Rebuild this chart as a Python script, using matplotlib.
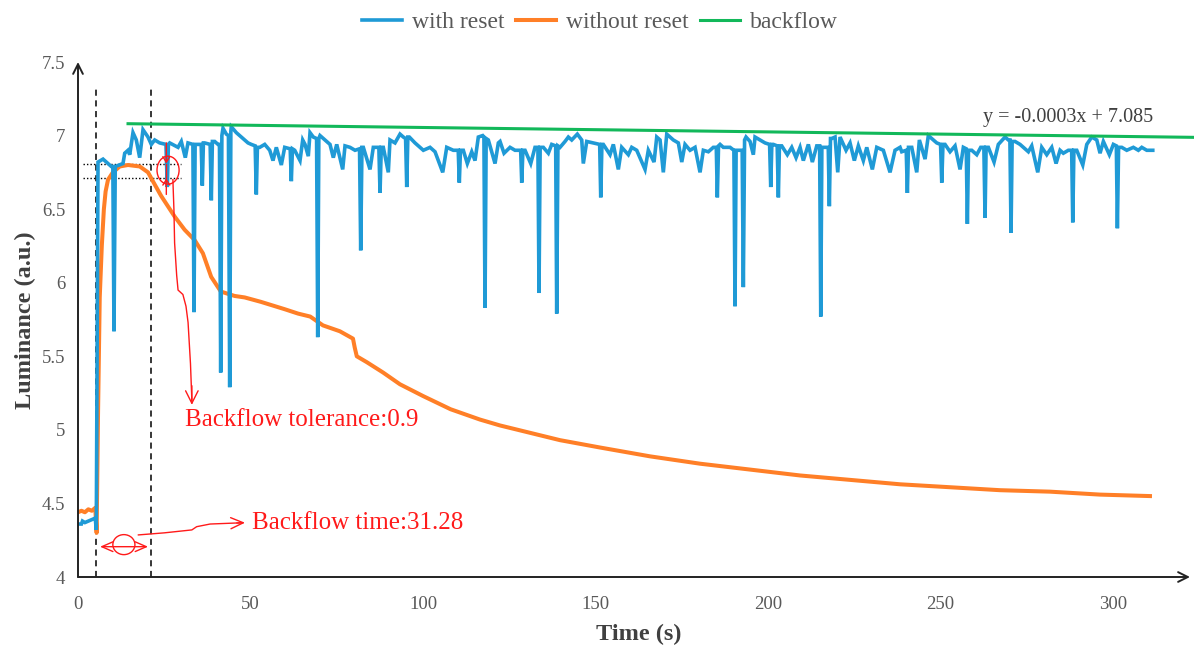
import matplotlib
matplotlib.use("Agg")
import matplotlib.pyplot as plt
from matplotlib.patches import Ellipse

plt.rcParams['font.family'] = ['Liberation Serif', 'DejaVu Serif']

# ---------------- data ----------------
with_reset = [
    (0, 4.36), (1, 4.36), (1.3, 4.38), (2, 4.37), (3, 4.38), (4, 4.39), (5, 4.40), (5.3, 4.32),
    (5.8, 6.82), (7.25, 6.84), (9.65, 6.79), (10.1, 6.79), (10.43, 5.67), (10.8, 6.79),
    (13.04, 6.81), (13.54, 6.88), (14.49, 6.90), (14.99, 6.87), (15.94, 7.02), (16.9, 6.97),
    (17.88, 6.85), (18.84, 7.04), (20.29, 6.99), (21.25, 6.94), (22.23, 6.97), (23.68, 6.95),
    (25.5, 6.94), (25.88, 6.65), (26.2, 6.94), (26.58, 6.95), (28.99, 6.92), (29.94, 6.96),
    (31.1, 6.85), (31.88, 6.95), (33.3, 6.94), (33.62, 5.80), (33.95, 6.94), (34.29, 6.94),
    (35.7, 6.94), (36.03, 6.66), (36.35, 6.95), (36.72, 6.95), (38.3, 6.94), (38.64, 6.56),
    (38.95, 6.96), (39.62, 6.96), (40.58, 6.94), (41.0, 6.94), (41.36, 5.39), (41.7, 7.0),
    (42.03, 7.05), (42.99, 7.01), (43.6, 7.0), (43.97, 5.29), (44.3, 7.03), (44.43, 7.06),
    (45.88, 7.02), (47.33, 6.99), (49.28, 6.95), (50.23, 6.94), (51.35, 6.93), (51.68, 6.60),
    (52.0, 6.92), (52.67, 6.92), (54.12, 6.94), (55.57, 6.90), (56.52, 6.83), (57.48, 6.92),
    (58.93, 6.80), (59.91, 6.92), (61.5, 6.91), (61.83, 6.69), (62.15, 6.91), (62.81, 6.90),
    (64.35, 6.83), (65.13, 6.97), (65.8, 6.94), (66.75, 6.86), (67.25, 7.02), (68.2, 6.99),
    (69.15, 6.98), (69.48, 5.63), (69.8, 6.98), (70.14, 7.00), (71.59, 6.97), (73.04, 6.94),
    (74.0, 6.85), (74.99, 6.94), (76.72, 6.77), (77.39, 6.93), (78.84, 6.92), (80.29, 6.90),
    (81.6, 6.91), (81.94, 6.22), (82.3, 6.92), (82.7, 6.92), (84.64, 6.77), (85.59, 6.92),
    (87.2, 6.92), (87.54, 6.61), (87.9, 6.92), (88.49, 6.92), (89.94, 6.75), (90.43, 6.97),
    (91.88, 6.95), (93.33, 7.01), (94.29, 6.99), (94.95, 6.98), (95.28, 6.65), (95.6, 6.99),
    (96.03, 6.99), (97.68, 6.95), (100.09, 6.90), (102.03, 6.92), (103.48, 6.89), (105.71, 6.75),
    (106.87, 6.92), (108.78, 6.90), (110.2, 6.90), (110.52, 6.68), (110.85, 6.90), (111.68, 6.90),
    (112.84, 6.81), (114.12, 6.89), (115.07, 6.83), (116.03, 6.99), (117.3, 7.00), (117.65, 6.99),
    (117.97, 5.83), (118.3, 6.98), (118.93, 6.97), (120.87, 6.81), (121.83, 6.95), (122.32, 6.96),
    (123.48, 6.88), (125.22, 6.92), (126.67, 6.90), (128.3, 6.90), (128.61, 6.68), (128.95, 6.90),
    (129.57, 6.90), (131.22, 6.81), (132.46, 6.92), (133.3, 6.92), (133.62, 5.93), (133.95, 6.92),
    (134.87, 6.92), (136.32, 6.88), (137.3, 6.94), (138.45, 6.93), (138.75, 5.79), (139.1, 6.93),
    (139.71, 6.92), (141.16, 6.96), (142.12, 6.99), (143.1, 6.97), (144.72, 7.01), (146.0, 6.97),
    (146.46, 6.81), (147.45, 6.96), (149.36, 6.95), (151.2, 6.94), (151.51, 6.58), (151.85, 6.94),
    (152.26, 6.94), (154.2, 6.87), (155.16, 6.94), (156.61, 6.77), (157.59, 6.92), (159.51, 6.87),
    (160.49, 6.92), (161.94, 6.90), (164.35, 6.77), (165.3, 6.90), (166.96, 6.82), (167.74, 6.99),
    (168.7, 6.97), (169.65, 6.75), (170.64, 7.01), (172.55, 6.97), (174.0, 6.95), (174.99, 6.82),
    (175.94, 6.94), (177.39, 6.90), (178.84, 6.92), (180.29, 6.75), (181.25, 6.90), (182.7, 6.89),
    (184.14, 6.92), (185.0, 6.92), (185.3, 6.58), (185.65, 6.93), (186.09, 6.94), (187.04, 6.92),
    (188.99, 6.92), (190.1, 6.90), (190.43, 5.84), (190.75, 6.90), (191.39, 6.90), (192.5, 6.90),
    (192.84, 5.97), (193.2, 6.97), (193.62, 6.99), (194.78, 6.96), (195.74, 6.87), (196.23, 6.99),
    (197.68, 6.97), (199.13, 6.95), (200.45, 6.94), (200.78, 6.65), (201.1, 6.94), (201.54, 6.94),
    (202.65, 6.93), (202.99, 6.58), (203.3, 6.93), (203.97, 6.93), (205.59, 6.87), (206.87, 6.92),
    (208.12, 6.85), (209.28, 6.92), (210.23, 6.83), (211.68, 6.94), (212.84, 6.82), (214.12, 6.93),
    (214.95, 6.93), (215.28, 5.77), (215.6, 6.92), (216.52, 6.92), (217.45, 6.92), (217.77, 6.52),
    (218.1, 6.98), (218.46, 6.98), (219.42, 6.99), (220.2, 6.75), (220.87, 6.99), (222.61, 6.90),
    (223.77, 6.95), (225.01, 6.83), (226.17, 6.93), (227.62, 6.83), (228.61, 6.92), (230.23, 6.77),
    (231.51, 6.92), (233.42, 6.90), (235.36, 6.75), (236.81, 6.90), (238.26, 6.92), (238.75, 6.89),
    (240.05, 6.90), (240.38, 6.61), (240.7, 6.92), (241.65, 6.92), (243.1, 6.75), (243.86, 6.97),
    (245.51, 6.84), (246.46, 7.00), (247.91, 6.97), (248.9, 6.95), (250.0, 6.94), (250.35, 6.68),
    (250.7, 6.94), (251.3, 6.94), (252.75, 6.89), (254.2, 6.93), (255.65, 6.77), (256.61, 6.92),
    (257.45, 6.91), (257.77, 6.40), (258.1, 6.90), (259.04, 6.90), (260.49, 6.87), (261.65, 6.92),
    (262.55, 6.92), (262.9, 6.44), (263.2, 6.92), (263.86, 6.92), (265.51, 6.82), (266.75, 6.94),
    (268.7, 6.99), (269.65, 6.97), (270.1, 6.97), (270.43, 6.34), (270.75, 6.96), (271.59, 6.96),
    (273.04, 6.94), (275.45, 6.89), (276.43, 6.93), (278.17, 6.75), (279.33, 6.92), (280.78, 6.87),
    (282.23, 6.92), (283.48, 6.81), (284.64, 6.90), (285.59, 6.88), (287.04, 6.90), (288.0, 6.90),
    (288.32, 6.41), (288.65, 6.90), (289.48, 6.90), (291.22, 6.80), (292.38, 6.94), (293.83, 6.99),
    (295.28, 6.97), (296.23, 6.88), (297.19, 6.96), (298.93, 6.87), (300.09, 6.94), (300.95, 6.93),
    (301.25, 6.37), (301.6, 6.92), (302.52, 6.92), (303.97, 6.90), (305.88, 6.92), (307.33, 6.90),
    (308.32, 6.92), (309.77, 6.90), (311.51, 6.90),
]

without_reset = [
    (0, 4.44), (1, 4.45), (2, 4.44), (3, 4.46), (4, 4.45), (5, 4.47), (5.4, 4.30), (5.8, 5.10),
    (6.3, 5.90), (6.9, 6.25), (7.5, 6.50), (8.0, 6.62), (8.7, 6.70), (10.1, 6.75), (12.1, 6.79),
    (14.5, 6.80), (17.9, 6.79), (20.3, 6.75), (21.7, 6.69), (24.1, 6.59), (28.0, 6.45),
    (30.9, 6.36), (33.8, 6.29), (36.2, 6.20), (38.6, 6.04), (41.4, 5.94), (45.4, 5.91),
    (48.3, 5.90), (53.0, 5.87), (59.9, 5.82), (63.8, 5.79), (67.3, 5.77), (71.0, 5.71),
    (75.9, 5.67), (79.7, 5.62), (80.2, 5.56), (80.8, 5.50), (83.7, 5.46), (88.4, 5.39),
    (93.3, 5.31), (100.0, 5.23), (108.0, 5.14), (116.5, 5.07), (122.3, 5.03), (131.0, 4.98),
    (139.7, 4.93), (151.3, 4.88), (165.8, 4.82), (180.3, 4.77), (194.8, 4.73), (209.3, 4.69),
    (223.8, 4.66), (238.3, 4.63), (252.8, 4.61), (267.2, 4.59), (281.7, 4.58), (296.2, 4.56),
    (310.7, 4.55),
]

trend_slope = -0.0003
trend_intercept = 7.085
trend_time = [14.5, 323.5]

series_labels = ["with reset", "without reset", "backflow"]
x_ticks = [0, 50, 100, 150, 200, 250, 300]
y_ticks = [4, 4.5, 5, 5.5, 6, 6.5, 7, 7.5]
y_tick_labels = ["4", "4.5", "5", "5.5", "6", "6.5", "7", "7.5"]

backflow_start, backflow_end = 5.3, 21.25
tolerance_high, tolerance_low = 6.81, 6.71

# ---------------- style ----------------
BLUE = '#1f9ad6'
ORANGE = '#ff7f27'
GREEN = '#12b85a'
RED = '#ff1a1a'
TXT = '#595959'
DARK = '#404040'

fig = plt.figure(figsize=(11.94, 6.46), dpi=100)
ax = fig.add_axes([78 / 1194, 69 / 646, 1112 / 1194, 515 / 646])
ax.set_xlim(0, 322.3)
ax.set_ylim(4, 7.5)

bt, bv = zip(*with_reset)
ot, ov = zip(*without_reset)
gt = trend_time
gv = [trend_intercept + trend_slope * t for t in gt]

l_or, = ax.plot(ot, ov, color=ORANGE, lw=2.9, zorder=3, solid_joinstyle='round')
l_bl, = ax.plot(bt, bv, color=BLUE, lw=2.6, zorder=4, solid_joinstyle='miter')
l_gr, = ax.plot(gt, gv, color=GREEN, lw=2.2, zorder=5, clip_on=False)

# spines with arrows
for s in ax.spines.values():
    s.set_visible(False)
ax.annotate('', xy=(1.0, 0), xytext=(0, 0), xycoords='axes fraction',
            arrowprops=dict(arrowstyle='->,head_length=0.7,head_width=0.35', lw=1.4,
                            color='#222222', shrinkA=0, shrinkB=0), zorder=6)
ax.annotate('', xy=(0, 1.0), xytext=(0, 0), xycoords='axes fraction',
            arrowprops=dict(arrowstyle='->,head_length=0.7,head_width=0.35', lw=1.4,
                            color='#222222', shrinkA=0, shrinkB=0), zorder=6)

ax.set_xticks(x_ticks)
ax.set_yticks(y_ticks)
ax.set_yticklabels(y_tick_labels)
ax.tick_params(axis='both', length=0, labelsize=13.5, labelcolor=TXT)
ax.tick_params(axis='y', pad=9)
ax.tick_params(axis='x', pad=14)

fig.text(25 / 1194, 1 - 320 / 646, 'Luminance (a.u.)', rotation=90, ha='center', va='center',
         fontsize=17.5, fontweight='bold', color=DARK)
fig.text(639 / 1194, 1 - 634 / 646, 'Time (s)', ha='center', va='center',
         fontsize=17.5, fontweight='bold', color=DARK)

fig.legend([l_bl, l_or, l_gr], series_labels, loc='center', bbox_to_anchor=(600 / 1194, 1 - 22 / 646),
           ncol=3, frameon=False, fontsize=17, handlelength=1.7, handletextpad=0.45,
           columnspacing=0.45, labelcolor=TXT)

ax.text(287, 7.12, 'y = -0.0003x + 7.085', ha='center', va='center', fontsize=14.5, color=DARK)

# reference lines
for t in (backflow_start, backflow_end):
    ax.plot([t, t], [4, 7.33], color='black', lw=1.1, ls=(0, (4, 3)), zorder=2)
for v in (tolerance_high, tolerance_low):
    ax.plot([1.45, 29.9], [v, v], color='black', lw=1.0, ls=(0, (1, 1.5)), zorder=2)

# tolerance marks
ax.annotate('', xy=(25.6, tolerance_high), xytext=(25.6, 6.95),
            arrowprops=dict(arrowstyle='->,head_length=0.4,head_width=0.25', color=RED, lw=1.0,
                            shrinkA=0, shrinkB=0), zorder=7)
ax.annotate('', xy=(25.6, tolerance_low), xytext=(25.6, 6.60),
            arrowprops=dict(arrowstyle='->,head_length=0.4,head_width=0.25', color=RED, lw=1.0,
                            shrinkA=0, shrinkB=0), zorder=7)
ax.plot([25.6, 25.6], [tolerance_low, tolerance_high], color=RED, lw=1.0, zorder=7)
ax.add_patch(Ellipse((26.1, 6.765), 6.4, 0.19, angle=0, fill=False, ec=RED, lw=1.0, zorder=7))
curve_t = [27.5, 27.8, 28.0, 28.6, 29.0, 30.4, 31.3, 31.9, 32.6, 33.0]
curve_v = [6.70, 6.50, 6.27, 6.05, 5.95, 5.92, 5.84, 5.73, 5.45, 5.20]
ax.plot(curve_t, curve_v, color=RED, lw=1.0, zorder=7)
ax.annotate('', xy=(33.0, 5.17), xytext=(33.0, 5.30),
            arrowprops=dict(arrowstyle='->,head_length=0.9,head_width=0.45', color=RED, lw=1.0,
                            shrinkA=0, shrinkB=0), zorder=7)
ax.text(31.0, 5.07, 'Backflow tolerance:0.9', ha='left', va='center', fontsize=18, color=RED)

# backflow time marks
ax.annotate('', xy=(6.4, 4.206), xytext=(20.3, 4.206),
            arrowprops=dict(arrowstyle='<->,head_length=0.8,head_width=0.35', color=RED, lw=1.0,
                            shrinkA=0, shrinkB=0), zorder=7)
ax.add_patch(Ellipse((13.3, 4.22), 6.4, 0.136, angle=0, fill=False, ec=RED, lw=1.0, zorder=7))
ct2 = [17.5, 25.0, 33.0, 34.4, 38.3, 47.0]
cv2 = [4.286, 4.30, 4.320, 4.342, 4.360, 4.368]
ax.plot(ct2, cv2, color=RED, lw=1.0, zorder=7)
ax.annotate('', xy=(48.4, 4.369), xytext=(46.0, 4.367),
            arrowprops=dict(arrowstyle='->,head_length=0.9,head_width=0.4', color=RED, lw=1.0,
                            shrinkA=0, shrinkB=0), zorder=7)
ax.text(50.4, 4.367, 'Backflow time:31.28', ha='left', va='center', fontsize=18, color=RED)

fig.savefig('out.png', dpi=100)
